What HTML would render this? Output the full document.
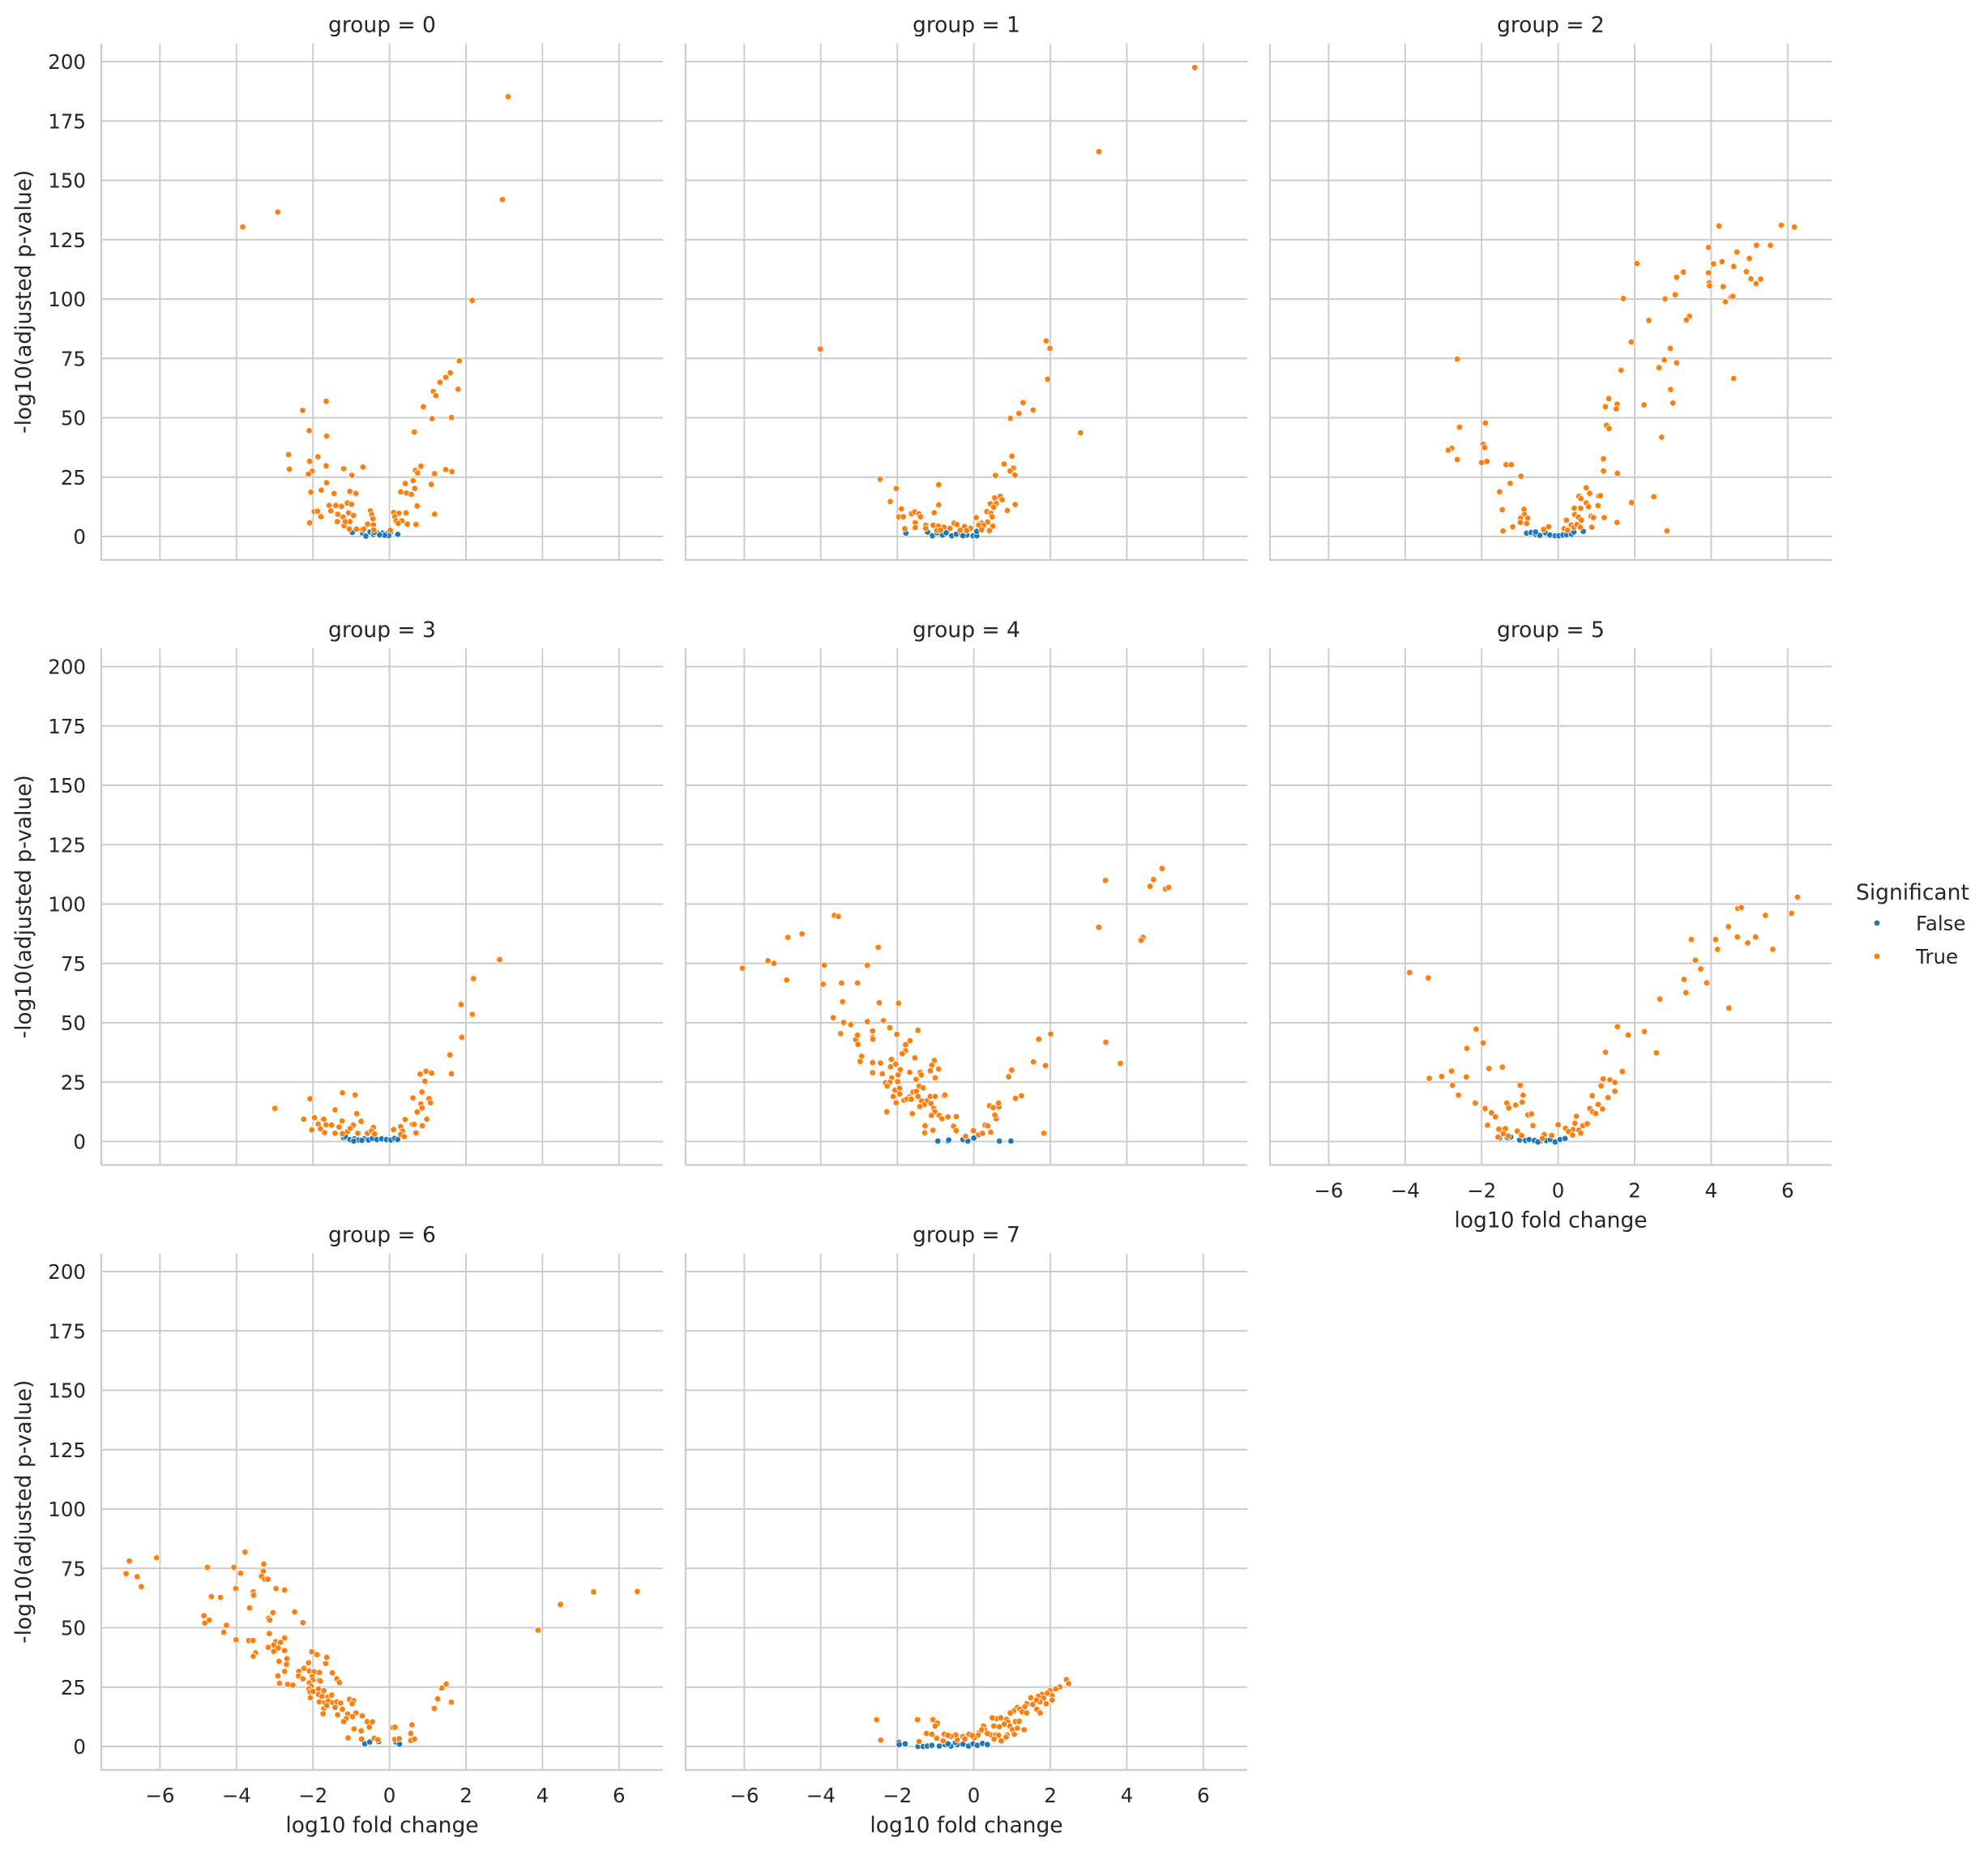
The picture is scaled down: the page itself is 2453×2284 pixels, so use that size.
<!DOCTYPE html>
<html><head><meta charset="utf-8">
<style>
html,body{margin:0;padding:0;background:#fff;}
svg{display:block;}
text{font-family:"DejaVu Sans","Liberation Sans",sans-serif;fill:#262626;}
</style></head>
<body>
<svg id="s" width="2453" height="2284" viewBox="0 0 2453 2284" xmlns="http://www.w3.org/2000/svg">
<rect width="2453" height="2284" fill="#fff"/>
<g id="grid"></g>
<g id="pts"></g>
<g id="txt">
<text x="2290" y="1110" font-size="26.5">Significant</text>
<circle cx="2316" cy="1139" r="3.8" fill="#1f77b4" stroke="#fff" stroke-width="0.8"/>
<text x="2364" y="1148" font-size="24.5">False</text>
<circle cx="2316" cy="1180" r="3.8" fill="#ff7f0e" stroke="#fff" stroke-width="0.8"/>
<text x="2364" y="1189" font-size="24.5">True</text>
</g>
</svg>
<script>
var NS="http://www.w3.org/2000/svg";
function el(p,t,a,txt){var e=document.createElementNS(NS,t);for(var k in a)e.setAttribute(k,a[k]);if(txt!==undefined)e.textContent=txt;p.appendChild(e);return e;}
var grid=document.getElementById('grid'),pts=document.getElementById('pts'),txt=document.getElementById('txt');
var W=693,XU=47.2,YU=2.93;
function geo(c,r){return {L:125+721*c,x0:480.6+721*c,T:53.6+746.5*r,B:691+746.5*r,y0:662+746.5*r};}
var panels=[[0,0],[1,0],[2,0],[0,1],[1,1],[2,1],[0,2],[1,2]];
var xt={0:[0,2],1:[1,2],2:[2,1]};
panels.forEach(function(p,i){
 var g=geo(p[0],p[1]);
 for(var d=-6;d<=6;d+=2){var x=g.x0+d*XU;el(grid,'line',{x1:x,x2:x,y1:g.T,y2:g.B,stroke:'#cccccc','stroke-width':1.9});}
 for(var v=0;v<=200;v+=25){var y=g.y0-v*YU;el(grid,'line',{x1:g.L,x2:g.L+W,y1:y,y2:y,stroke:'#cccccc','stroke-width':1.9});}
 el(grid,'line',{x1:g.L,x2:g.L,y1:g.T,y2:g.B+1,stroke:'#cccccc','stroke-width':2.2});
 el(grid,'line',{x1:g.L-1,x2:g.L+W,y1:g.B,y2:g.B,stroke:'#cccccc','stroke-width':2.2});
 el(txt,'text',{x:g.L+W/2,y:g.T-14,'font-size':26.5,'text-anchor':'middle'},'group = '+i);
 if(p[0]==0){
  for(var v=0;v<=200;v+=25){el(txt,'text',{x:106,y:g.y0-v*YU+9,'font-size':24.5,'text-anchor':'end'},''+v);}
  var cy=(g.T+g.B)/2;
  el(txt,'text',{x:38,y:cy,'font-size':26.5,'text-anchor':'middle',transform:'rotate(-90 38 '+cy+')'},'-log10(adjusted p-value)');
 }
 var show=(p[1]==2)||(p[0]==2&&p[1]==1);
 if(show){
  for(var d=-6;d<=6;d+=2){el(txt,'text',{x:g.x0+d*XU,y:g.B+40,'font-size':24.5,'text-anchor':'middle'},(d<0?'\u2212':'')+Math.abs(d));}
  el(txt,'text',{x:g.L+W/2,y:g.B+77,'font-size':26.5,'text-anchor':'middle'},'log10 fold change');
 }
});
// calibration: [zx0, zxu(per unit), zy0, zyu]
var cal=[[942,92.5,1298,5.745],[789,102.5,1442,6.385],[790,102,1442,6.385],[786,102.5,1411,6.385],[789,102,1411,6.385],[696,77.5,1164,4.82],[786,102.5,1425,6.39],[789,102,1425,6.39]];
var O=[],B=[];
O[0]=[1229,234,1215,483,587,549,672,513,1142,727,1111,873,1089,902,1078,913,1064,925,1108,942,1048,947,1054,957,1024,984,1045,1013,1092,1010,1002,1045,732,993,789,971,748,1042,790,1055,698,1100,700,1135,749,1116,769,1105,755,1140,746,1147,789,1127,831,1134,851,1150,878,1130,1018,1128,1005,1138,1010,1144,1051,1146,1078,1136,1093,1141,1043,1172,999,1163,980,1170,790,1168,777,1186,752,1191,808,1194,846,1189,861,1194,969,1190,983,1193,995,1196,1003,1182,1009,1224,1051,1244,796,1223,812,1223,826,1225,840,1217,850,1220,760,1238,768,1237,776,1250,800,1236,817,1244,830,1251,843,1241,855,1247,749,1265,816,1262,832,1272,846,1262,862,1280,896,1236,899,1245,902,1255,889,1268,903,1270,876,1281,904,1282,952,1240,965,1242,955,1250,982,1241,958,1260,972,1260,985,1268,1006,1269,944,1283,963,1266,835,1262,845,1280,880,1280];
B[0]=[852,1288,877,1290,885,1297,895,1287,903,1293,913,1290,925,1290,937,1291,945,1287,962,1293,940,1296,930,1295,918,1294,905,1288];
O[1]=[1381,181,1124,407,378,938,983,916,993,936,987,1019,921,1082,948,1102,910,1111,887,1124,1075,1163,891,1226,870,1247,895,1258,886,1266,899,1277,847,1278,538,1288,581,1313,695,1303,565,1348,695,1357,595,1368,588,1389,600,1389,622,1381,631,1376,642,1381,646,1389,683,1378,604,1421,632,1405,632,1418,860,1334,845,1338,865,1343,833,1354,849,1353,842,1363,900,1356,879,1372,824,1375,835,1380,838,1389,795,1391,826,1403,810,1406,815,1412,802,1411,840,1414,831,1426,810,1424,660,1412,680,1412,694,1414,709,1417,736,1406,744,1410,764,1415,780,1420,660,1420,690,1426,752,1425,770,1426,725,1420,700,1425];
B[1]=[607,1433,665,1430,678,1440,690,1432,705,1438,718,1428,730,1440,742,1436,755,1432,770,1438,787,1440,797,1440,797,1428,715,1432,760,1440];
O[2]=[1219,607,1385,605,1420,610,1191,665,1319,659,1356,659,1267,677,1300,694,1227,703,1204,709,1258,716,1292,730,1191,733,1304,749,1330,750,1193,760,1194,768,1318,762,1230,770,1251,798,1256,796,1236,811,1000,708,1124,731,1106,745,1102,792,1075,803,964,802,1032,861,1140,850,1132,860,985,919,1089,936,521,965,1073,967,1106,975,1059,988,958,995,1258,1017,1090,1047,925,1071,947,1086,916,1093,945,1099,1019,1088,1096,1083,596,1137,527,1148,919,1143,926,1152,1066,1175,590,1194,594,1203,506,1205,497,1210,521,1235,586,1243,600,1240,911,1233,651,1249,665,1249,911,1266,948,1272,691,1280,662,1299,634,1322,865,1311,874,1326,845,1334,851,1340,898,1333,903,1332,1045,1335,986,1351,833,1366,850,1366,865,1352,871,1362,896,1359,641,1370,699,1369,700,1383,690,1393,709,1393,689,1404,706,1407,812,1398,834,1383,844,1390,852,1398,878,1388,884,1391,913,1391,947,1404,669,1416,643,1427,1080,1427,751,1423,765,1416,825,1411,832,1417,840,1410,849,1417,880,1417,806,1421,815,1425];
B[2]=[706,1433,718,1431,729,1436,741,1439,756,1432,768,1438,782,1440,792,1440,803,1438,813,1437,826,1436,832,1430,857,1428,730,1430];
O[3]=[1081,922,1011,973,977,1040,978,1043,1008,1069,980,1131,948,1178,868,1230,884,1222,899,1227,952,1229,881,1249,873,1278,849,1294,892,1296,870,1310,896,1307,873,1321,860,1332,660,1280,694,1286,573,1296,479,1322,640,1326,698,1336,585,1347,556,1351,607,1351,610,1351,595,1364,616,1366,631,1367,659,1356,710,1357,828,1352,847,1365,852,1365,886,1351,874,1369,857,1388,601,1377,612,1387,578,1380,640,1389,651,1372,674,1384,689,1367,681,1376,701,1389,727,1389,743,1373,738,1383,746,1391,797,1379,816,1371,821,1383,816,1392,826,1398,660,1390];
B[3]=[663,1401,668,1398,680,1406,692,1404,703,1407,718,1404,730,1407,740,1403,752,1406,765,1404,778,1406,790,1407,800,1403,808,1406,690,1410,712,1408];
O[4]=[1291,677,1268,707,1259,725,1300,732,1309,728,1140,709,1122,835,1240,862,1235,870,417,803,428,806,293,862,331,853,534,889,240,925,256,932,172,945,390,937,505,937,290,977,387,988,436,985,479,985,439,1035,537,1038,588,1039,414,1078,442,1091,461,1097,505,1089,548,1086,565,1105,434,1121,474,1137,479,1125,480,1150,519,1114,519,1131,520,1136,584,1123,640,1112,619,1140,607,1151,607,1167,598,1175,632,1186,490,1182,486,1196,519,1199,540,1200,569,1190,567,1210,581,1203,593,1218,618,1225,646,1225,649,1232,684,1193,677,1206,673,1221,695,1216,686,1240,519,1226,545,1229,570,1240,587,1232,635,1244,553,1253,565,1252,586,1250,558,1262,579,1273,591,1268,643,1262,654,1267,627,1278,636,1276,640,1290,617,1291,603,1300,574,1290,582,1307,591,1283,611,1297,622,1297,650,1302,665,1301,675,1309,657,1312,645,1317,673,1290,686,1290,709,1288,712,1286,682,1322,685,1331,676,1341,697,1341,704,1350,720,1345,742,1344,625,1336,557,1331,659,1369,658,1388,680,1381,735,1370,742,1382,767,1397,788,1382,802,1393,812,1389,819,1367,826,1369,834,1386,849,1350,845,1340,831,1315,841,1320,856,1318,855,1308,900,1295,916,1288,882,1237,890,1219,948,1197,980,1207,962,1136,994,1122,1141,1144,1180,1201,976,1389];
B[4]=[693,1410,720,1410,722,1407,760,1406,773,1410,789,1402,857,1410,888,1410];
O[5]=[1181,668,1060,691,1067,689,1116,705,1169,701,1041,728,966,754,1015,754,1059,749,1096,749,1080,761,1019,774,1131,774,974,796,985,814,997,842,951,835,955,862,1042,893,902,875,395,821,433,832,816,931,838,948,871,941,530,936,544,964,511,975,792,983,895,984,556,1016,583,1013,435,1036,460,1032,480,1021,510,1033,482,1050,494,1070,619,1050,625,1070,623,1084,592,1086,596,1096,610,1090,826,1022,787,1037,801,1039,811,1044,811,1062,783,1051,765,1071,797,1075,777,1089,786,1098,760,1097,766,1104,772,1107,528,1086,548,1097,561,1106,569,1114,635,1110,642,1108,645,1132,553,1131,576,1139,589,1138,585,1148,613,1143,595,1153,733,1113,730,1127,726,1140,746,1132,738,1141,755,1128,742,1147,696,1130,711,1137,717,1144,725,1151,622,1152,668,1150,683,1152,574,1155,664,1158];
B[5]=[577,1157,600,1155,618,1161,630,1162,637,1160,648,1162,660,1163,672,1162,680,1160,690,1165,700,1160,710,1158,593,1156,655,1165];
O[6]=[89,926,162,917,80,960,110,968,121,995,298,943,369,943,399,902,449,934,448,953,387,959,443,967,452,975,460,975,374,1000,482,1000,505,1004,421,1009,422,1018,309,1022,333,1024,411,1052,474,1065,532,1063,289,1073,303,1085,291,1093,462,1080,465,1085,554,1092,349,1099,342,1118,464,1121,375,1138,409,1140,420,1140,505,1133,481,1143,494,1145,461,1158,476,1152,488,1160,476,1169,505,1167,427,1173,421,1182,578,1170,592,1178,618,1185,615,1202,569,1200,511,1189,490,1196,510,1204,505,1223,557,1215,543,1223,542,1235,487,1235,491,1255,513,1258,527,1260,554,1243,571,1222,584,1224,598,1226,579,1237,580,1246,597,1247,601,1249,633,1227,645,1243,652,1253,571,1254,576,1263,570,1270,573,1278,581,1277,596,1270,610,1275,596,1285,574,1294,605,1290,621,1292,631,1287,598,1305,612,1307,622,1303,634,1307,645,1305,655,1308,610,1323,608,1337,618,1315,640,1320,647,1340,660,1325,679,1298,690,1302,686,1310,674,1338,696,1335,687,1345,670,1350,663,1358,713,1343,726,1358,740,1359,732,1373,691,1378,710,1383,675,1402,711,1405,745,1403,755,1407,795,1374,801,1373,846,1367,843,1390,800,1406,812,1404,843,1409,853,1405,906,1323,915,1297,926,1268,938,1257,952,1306,1184,1112,1244,1043,1333,1009,1450,1008];
B[6]=[720,1418,733,1413,757,1412,803,1413,813,1419];
O[7]=[1036,1245,1042,1256,1018,1265,1008,1270,992,1275,998,1288,985,1282,970,1285,975,1295,961,1290,998,1300,982,1310,965,1305,956,1300,941,1294,946,1312,930,1310,925,1318,905,1320,912,1325,895,1330,886,1335,918,1332,930,1335,957,1325,966,1335,850,1350,838,1348,861,1348,876,1352,880,1360,870,1365,900,1358,910,1357,885,1370,892,1380,905,1376,923,1380,815,1370,842,1370,857,1372,819,1382,803,1388,833,1393,847,1394,855,1395,878,1394,897,1392,875,1400,862,1410,843,1405,800,1395,790,1402,776,1392,785,1396,760,1398,745,1407,741,1394,728,1398,710,1392,720,1395,707,1410,690,1403,663,1390,677,1392,680,1353,692,1362,686,1370,639,1353,530,1353,541,1408,643,1412,825,1390,810,1380,765,1405];
B[7]=[589,1414,606,1418,640,1425,654,1425,665,1424,677,1422,697,1424,712,1420,728,1424,745,1420,760,1419,775,1424,787,1418,798,1422,812,1417,825,1420,590,1420,720,1418,740,1414];
function draw(i,arr,col){
 var p=panels[i],g=geo(p[0],p[1]),c=cal[i];
 for(var k=0;k<arr.length;k+=2){
  var dx=(arr[k]-c[0])/c[1],dy=(c[2]-arr[k+1])/c[3];
  el(pts,'circle',{cx:(g.x0+dx*XU).toFixed(1),cy:(g.y0-dy*YU).toFixed(1),r:3.8,fill:col,stroke:'#fff','stroke-width':0.8});
 }
}
for(var i=0;i<8;i++){draw(i,B[i],'#1f77b4');draw(i,O[i],'#ff7f0e');}
</script>
</body></html>
